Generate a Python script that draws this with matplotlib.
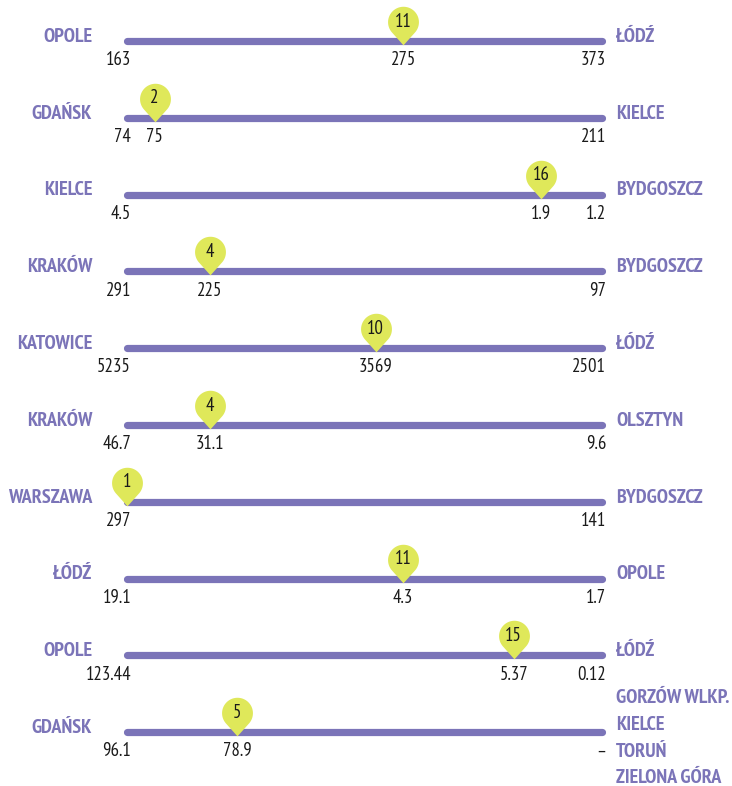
import numpy as np
import matplotlib
matplotlib.use("Agg")
import matplotlib.pyplot as plt
from matplotlib.path import Path

# one row per indicator: best city on the left, worst on the right
left_cities = ["OPOLE", "GDAŃSK", "KIELCE", "KRAKÓW", "KATOWICE",
               "KRAKÓW", "WARSZAWA", "ŁÓDŹ", "OPOLE", "GDAŃSK"]
right_cities = ["ŁÓDŹ", "KIELCE", "BYDGOSZCZ", "BYDGOSZCZ", "ŁÓDŹ",
                "OLSZTYN", "BYDGOSZCZ", "OPOLE", "ŁÓDŹ",
                "GORZÓW WLKP.\nKIELCE\nTORUŃ\nZIELONA GÓRA"]
left_values = ["163", "74", "4.5", "291", "5235", "46.7", "297", "19.1", "123.44", "96.1"]
right_values = ["373", "211", "1.2", "97", "2501", "9.6", "141", "1.7", "0.12", "–"]
city_values = ["275", "75", "1.9", "225", "3569", "31.1", "", "4.3", "5.37", "78.9"]
ranks = [11, 2, 16, 4, 10, 4, 1, 11, 15, 5]

BAR_START, BAR_END = 1, 18.2
PURPLE = "#7b74b8"
PIN = "#dfe85a"
INK = "#1a1a1a"
NARROW = ["PT Sans Narrow", "DejaVu Sans"]


def pin_marker(c=1.5, drop=0.25, n=60):
    # teardrop: round head of radius 1, tip slightly below the origin
    a = -np.arcsin(1 / c)
    angles = np.linspace(a, np.pi - a, n)
    head = np.column_stack([np.cos(angles), c - drop + np.sin(angles)])
    verts = np.vstack([[0, -drop], head, [0, -drop]])
    return Path(verts, closed=True)


fig = plt.figure(figsize=(7.32, 7.86), dpi=100)
ax = fig.add_axes([0, 0, 1, 1])
px = 475 / (BAR_END - BAR_START)  # pixels per rank step
ax.set_xlim(BAR_START - 127 / px, BAR_START + (732 - 127) / px)
ax.set_ylim((786 - 41) / 76.8, -41 / 76.8)
ax.axis("off")

city_style = dict(textcoords="offset points", va="center", fontsize=14.5,
                  fontweight="bold", color=PURPLE, family=NARROW)
num_style = dict(textcoords="offset points", va="center", fontsize=13.5,
                 color=INK, family=NARROW)

marker = pin_marker()
for i in range(len(ranks)):
    y = i
    ax.plot([BAR_START, BAR_END], [y, y], color=PURPLE, lw=5.2,
            solid_capstyle="round", zorder=1)

    ax.annotate(left_cities[i], (BAR_START, y), xytext=(-25, 3),
                ha="right", **city_style)
    names = right_cities[i].split("\n")
    if len(names) == 1:
        ax.annotate(names[0], (BAR_END, y), xytext=(10, 3), ha="left", **city_style)
    else:
        for k, name in enumerate(names):
            ax.annotate(name, (BAR_END, y), xytext=(10, 24.5 - k * 19.2),
                        ha="left", **city_style)

    ax.annotate(left_values[i], (BAR_START, y), xytext=(3, -13.8),
                ha="right", **num_style)
    ax.annotate(right_values[i], (BAR_END, y), xytext=(3, -13.8),
                ha="right", **num_style)
    if city_values[i]:
        ax.annotate(city_values[i], (ranks[i], y), xytext=(0, -13.8),
                    ha="center", **num_style)

    ax.plot(ranks[i], y, marker=marker, markersize=50, color=PIN,
            markeredgewidth=0, zorder=3)
    ax.annotate(str(ranks[i]), (ranks[i], y), xytext=(0, 14),
                ha="center", zorder=4, **num_style)

fig.savefig("out.png", dpi=100)
